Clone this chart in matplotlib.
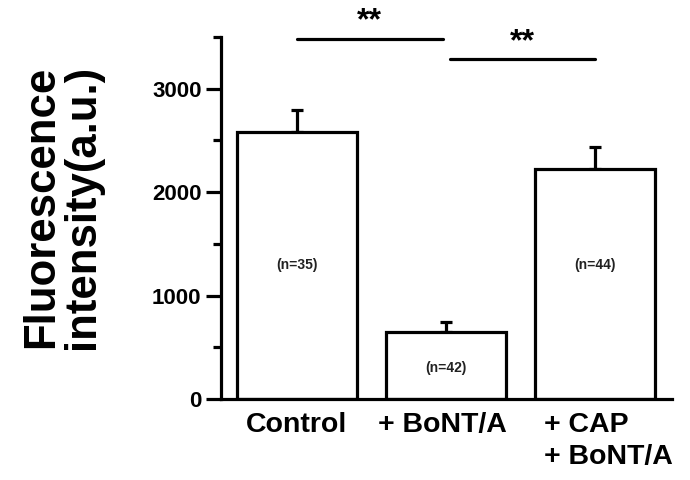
import matplotlib.pyplot as plt

plt.rcParams['font.family'] = ['Liberation Sans', 'DejaVu Sans']
plt.rcParams['font.weight'] = 'bold'

# Data
groups = ['Control', '+ BoNT/A', '+ CAP\n+ BoNT/A']
means = [2585, 650, 2225]
sems = [210, 90, 215]
n_labels = ['(n=35)', '(n=42)', '(n=44)']
n_label_y = [1300, 300, 1300]
sig_pairs = [(0, 0.98, 3485), (1.03, 2.0, 3285)]

fig = plt.figure(figsize=(6.9, 4.8), dpi=100)
ax = fig.add_axes([221 / 690, 1 - 399 / 480, 451 / 690, 362 / 480])

x = list(range(len(groups)))
lw = 2.3
ax.bar(x, means, width=0.805, color='white', edgecolor='black',
       linewidth=lw, zorder=2)
ax.errorbar(x, means, yerr=[[0] * 3, sems], fmt='none', ecolor='black',
            elinewidth=lw, capsize=4.5, capthick=lw, zorder=1)

for xi, lab, yy in zip(x, n_labels, n_label_y):
    ax.text(xi, yy, lab, ha='center', va='center', fontsize=10,
            fontweight='bold', color='#222222')

# Significance bars
for x0, x1, yy in sig_pairs:
    ax.plot([x0, x1], [yy, yy], color='black', lw=lw, clip_on=False,
            solid_capstyle='round')
    ax.text((x0 + x1) / 2, yy + 20, '**', ha='center', va='bottom',
            fontsize=23, fontweight='bold', clip_on=False)

ax.set_xlim(-0.51, 2.52)
ax.set_ylim(0, 3500)
ax.set_yticks([0, 1000, 2000, 3000])
ax.set_yticks([500, 1500, 2500, 3500], minor=True)
ax.tick_params(axis='y', which='major', length=11, width=lw, labelsize=16,
               pad=3)
ax.tick_params(axis='y', which='minor', length=6, width=lw)
ax.set_xticks([])

for side in ['top', 'right']:
    ax.spines[side].set_visible(False)
for side in ['left', 'bottom']:
    ax.spines[side].set_linewidth(lw)

# Category labels
label_x = [0, 0.98, 1.66]
label_ha = ['center', 'center', 'left']
for xi, lab, ha in zip(label_x, groups, label_ha):
    ax.text(xi, -0.035, lab, ha=ha, va='top', fontsize=20.5,
            fontweight='bold', transform=ax.get_xaxis_transform(),
            multialignment='left', linespacing=1.3)

fig.text(62 / 690, 1 - 207 / 480, 'Fluorescence\nintensity(a.u.)',
         rotation=90, ha='center', va='center', fontsize=31.5,
         fontweight='bold', linespacing=1.0)

fig.savefig('out.png', dpi=100)
